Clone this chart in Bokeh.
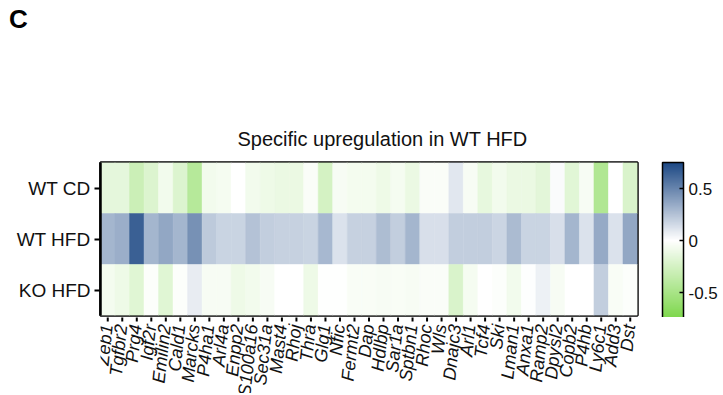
import numpy as np
from bokeh.plotting import figure
from bokeh.layouts import column
from bokeh.models import (ColumnDataSource, LinearColorMapper, ColorBar, FixedTicker, Div,
                          Range1d, CustomJSTickFormatter)
from bokeh.transform import transform
from bokeh.core.properties import value
from bokeh.embed import file_html
from bokeh.resources import INLINE

genes = ["Zeb1", "Tgfbr2", "Prg4", "Igf2r", "Emilin2", "Cald1", "Marcks", "P4ha1", "Arl4a",
         "Enpp2", "S100a16", "Sec31a", "Mast4", "Rhoj", "Thra", "Glg1", "Nfic", "Fermt2", "Dap",
         "Hdlbp", "Sar1a", "Sptbn1", "Rhoc", "Wls", "Dnajc3", "Arl1", "Tcf4", "Ski", "Lman1",
         "Anxa1", "Ramp2", "Dpysl2", "Copb2", "P4hb", "Ly6c1", "Add3", "Dst"]
conditions = ["WT CD", "WT HFD", "KO HFD"]

wt_cd = [-0.15, -0.15, -0.30, -0.20, -0.08, -0.20, -0.42, -0.08, -0.06, 0.00, -0.08, -0.10,
         -0.12, -0.12, -0.03, -0.25, -0.05, -0.07, -0.07, -0.10, -0.06, -0.12, -0.03, -0.03,
         0.10, -0.05, -0.14, -0.08, -0.12, -0.12, -0.16, 0.02, -0.17, -0.05, -0.45, 0.00, -0.22]
wt_hfd = [0.30, 0.33, 0.65, 0.30, 0.36, 0.30, 0.45, 0.22, 0.18, 0.18, 0.25, 0.20,
          0.19, 0.19, 0.18, 0.29, 0.12, 0.19, 0.19, 0.27, 0.20, 0.30, 0.13, 0.13,
          0.20, 0.20, 0.20, 0.17, 0.28, 0.18, 0.18, 0.13, 0.30, 0.12, 0.35, 0.12, 0.36]
ko_hfd = [-0.07, -0.10, -0.18, -0.02, -0.18, -0.02, 0.08, -0.05, -0.05, -0.10, -0.08, -0.05,
          0.00, 0.00, -0.10, -0.01, -0.01, -0.04, -0.04, -0.05, -0.04, -0.05, -0.03, -0.03,
          -0.22, -0.06, 0.00, -0.02, -0.08, 0.01, 0.06, -0.05, 0.00, 0.00, 0.20, -0.04, -0.02]

cbar_ticks = [-0.5, 0, 0.5]
low, high = -0.75, 0.75


def lerp(c1, c2, t):
    return "#%02x%02x%02x" % tuple(int(round(a + (b - a) * t)) for a, b in zip(c1, c2))


green = (125, 215, 75)
white = (255, 255, 255)
navy = (28, 72, 132)
palette = [lerp(green, white, i / 127) for i in range(128)] + \
          [lerp(white, navy, i / 127) for i in range(128)]

xs, ys, vs = [], [], []
for cond, vals in zip(conditions, [wt_cd, wt_hfd, ko_hfd]):
    for g, v in zip(genes, vals):
        xs.append(g)
        ys.append(cond)
        vs.append(v)
source = ColumnDataSource(dict(gene=xs, cond=ys, value=vs))

mapper = LinearColorMapper(palette=palette, low=low, high=high)

FONT = "Liberation Sans"
FW = 537
LEFT = 100

panel_label = Div(text="C", width=60, height=40, margin=0,
                  styles={"font-family": FONT, "font-size": "26px", "font-weight": "bold",
                          "padding-left": "9px", "padding-top": "6px", "line-height": "26px",
                          "color": "black"})

p = figure(x_range=genes, y_range=list(reversed(conditions)), frame_width=FW, frame_height=153,
           output_backend="svg", toolbar_location=None,
           min_border_left=LEFT, min_border_top=122, min_border_bottom=2, min_border_right=0)

p.rect(x="gene", y="cond", width=1, height=1, source=source,
       fill_color=transform("value", mapper), line_color=transform("value", mapper),
       line_width=0.5)

p.title.text = "Specific upregulation in WT HFD"
p.title.align = "left"
p.title.offset = 137
p.title.standoff = 26
p.title.text_font = FONT
p.title.text_font_size = "20px"
p.title.text_font_style = "normal"
p.title.text_color = "#111111"

p.grid.visible = False
p.outline_line_color = "black"
p.outline_line_width = 2.5
p.outline_line_alpha = 1.0
p.xaxis.visible = False

yax = p.yaxis[0]
yax.axis_line_width = 2.5
yax.axis_line_color = "black"
yax.major_tick_line_width = 2
yax.major_tick_line_color = "black"
yax.major_tick_out = 6
yax.major_tick_in = 0
yax.major_label_text_font = FONT
yax.major_label_text_color = "#111111"
yax.major_label_text_font_size = "19px"
yax.major_label_standoff = 4

cb = ColorBar(color_mapper=mapper, ticker=FixedTicker(ticks=cbar_ticks), width=21, height=156,
              padding=0, margin=0, location=(25, -3),
              formatter=CustomJSTickFormatter(code="return tick.toString()"),
              major_label_text_font=FONT, major_label_text_font_size="17px",
              major_label_text_color="#111111",
              major_tick_line_color="black", major_tick_in=4, major_tick_out=0,
              major_tick_line_width=1.5,
              bar_line_color="black", bar_line_width=1.5,
              border_line_color=None, background_fill_alpha=0, label_standoff=5)
p.add_layout(cb, "right")

# gene label strip below the heatmap (shares the categorical x range)
p2 = figure(x_range=p.x_range, y_range=Range1d(-76, 0), frame_width=FW, frame_height=76,
            output_backend="svg", toolbar_location=None,
            min_border_left=LEFT, min_border_right=0, min_border_top=0, min_border_bottom=0)
p2.axis.visible = False
p2.grid.visible = False
p2.outline_line_color = None
p2.segment(x0=genes, y0=[1] * len(genes), x1=genes, y1=[-4] * len(genes),
           line_width=2, line_color="black")
p2.text(x=genes, y=[-7] * len(genes), text=genes, angle=np.deg2rad(84),
        text_align="right", text_baseline="middle", text_font=value(FONT),
        text_font_style="italic", text_font_size="18px", text_color="#111111",
        x_offset=-1)

layout = column(panel_label, p, p2)
open("out.html", "w").write(file_html(layout, INLINE))
